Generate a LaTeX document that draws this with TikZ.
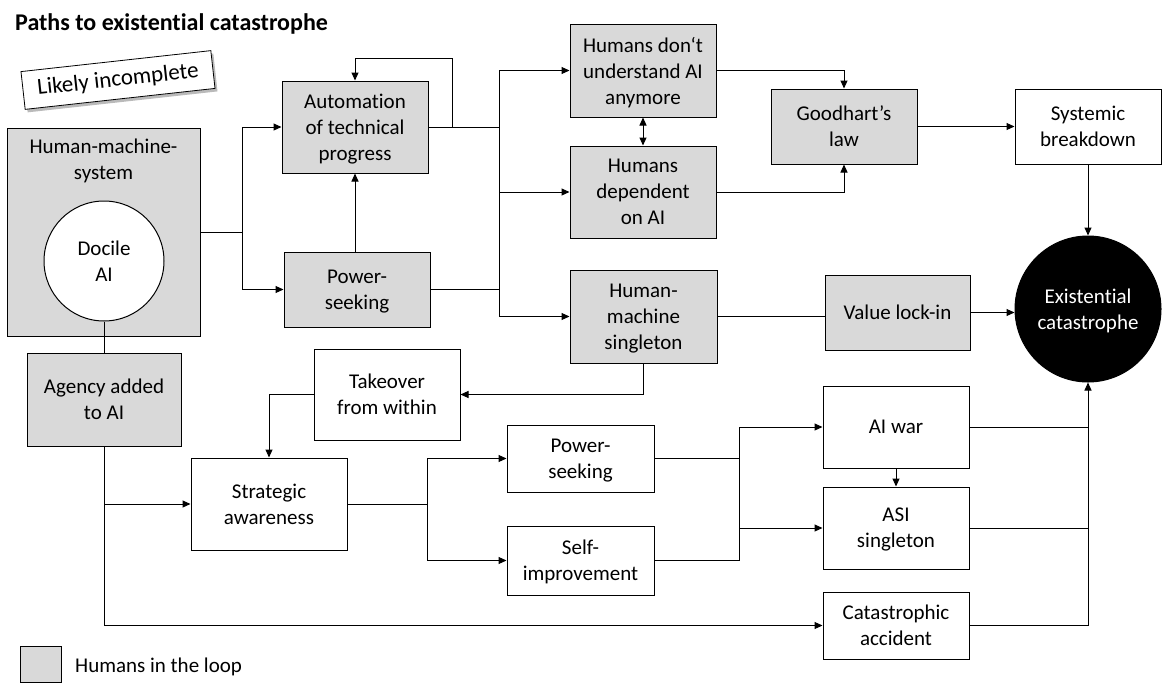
\documentclass[tikz,border=0pt]{standalone}
\usepackage{fontspec}
\setmainfont{Carlito}[Ligatures={TeX,NoCommon}]
\usetikzlibrary{arrows.meta,shadows}
\definecolor{boxgray}{HTML}{D9D9D9}
\begin{document}
\begin{tikzpicture}[x=1pt,y=-1pt,
  base/.style={draw=black, line width=1pt, align=center, inner sep=0pt, text depth=0pt,
    font=\fontsize{21}{26}\selectfont},
  gbox/.style={base, fill=boxgray},
  wbox/.style={base, fill=white},
  conn/.style={line width=1pt, draw=black},
  arr/.style={conn, -{Triangle[length=8pt,width=7pt]}},
  darr/.style={conn, {Triangle[length=8pt,width=7pt]}-{Triangle[length=8pt,width=7pt]}},
  txt/.style={align=center, inner sep=0pt, text depth=0pt, font=\fontsize{21}{26}\selectfont}
]
\useasboundingbox (0,0) rectangle (1162,691);
\fill[white] (0,0) rectangle (1162,691);

% title and note
\node[anchor=base west, inner sep=0pt, font=\bfseries\fontsize{24}{28}\selectfont] (title) at (15,30) {Paths to existential catastrophe};
\node[draw=black, line width=0.8pt, fill=white, rotate=6.3, minimum width=191, minimum height=38, inner sep=0pt,
  font=\fontsize{23}{26}\selectfont,
  drop shadow={shadow xshift=2.5pt, shadow yshift=-3pt, fill=black!45, opacity=0.6}] (note) at (118,80) {Likely incomplete};

% nodes
\node[gbox, minimum width=193, minimum height=208] (hms) at (103.5,232) {};
\node[txt] (hmslabel) at (103.5,159) {Human-machine-\\system};
\node[wbox, circle, minimum size=120] (docile) at (104,261) {Docile\\AI};
\node[gbox, minimum width=154, minimum height=93] (agency) at (104,399.5) {Agency added\\to AI};
\node[gbox, minimum width=146, minimum height=92] (automation) at (355,127) {Automation\\of technical\\progress};
\node[gbox, minimum width=146, minimum height=75] (power1) at (357,289.5) {Power-\\seeking};
\node[gbox, minimum width=146, minimum height=93] (understand) at (643,70.5) {Humans don‘t\\understand AI\\anymore};
\node[gbox, minimum width=146, minimum height=92] (dependent) at (643,192) {Humans\\dependent\\on AI};
\node[gbox, minimum width=146, minimum height=75] (goodhart) at (844,126.5) {Goodhart’s\\law};
\node[wbox, minimum width=146, minimum height=75] (systemic) at (1088,126.5) {Systemic\\breakdown};
\node[base, circle, fill=black, text=white, minimum size=146] (exist) at (1088,309) {Existential\\catastrophe};
\node[gbox, minimum width=145, minimum height=75] (valuelock) at (897.5,312.5) {Value lock-in};
\node[gbox, minimum width=147, minimum height=93] (singleton) at (643.5,316.5) {Human-\\machine\\singleton};
\node[wbox, minimum width=146, minimum height=91] (takeover) at (387,394.5) {Takeover\\from within};
\node[wbox, minimum width=156, minimum height=92] (strategic) at (269,504) {Strategic\\awareness};
\node[wbox, minimum width=147, minimum height=67] (power2) at (580.5,458.5) {Power-\\seeking};
\node[wbox, minimum width=147, minimum height=69] (selfimp) at (580.5,560.5) {Self-\\improvement};
\node[wbox, minimum width=146, minimum height=82] (aiwar) at (896,427) {AI war};
\node[wbox, minimum width=146, minimum height=82] (asi) at (896,528) {ASI\\singleton};
\node[wbox, minimum width=146, minimum height=67] (accident) at (896,625.5) {Catastrophic\\accident};

% legend
\node[gbox, minimum width=41, minimum height=36] (legbox) at (40.5,664) {};
\node[anchor=base west, inner sep=0pt, font=\fontsize{21}{26}\selectfont] (legtxt) at (75,672) {Humans in the loop};

% junction coordinates
\coordinate (j1) at (242,232);
\coordinate (loopc) at (452,58);
\coordinate (t1) at (499,127);
\coordinate (s1) at (427,504);
\coordinate (p1) at (739,458.5);

% connectors
\draw[conn] (hms.east) -- (j1);
\draw[arr] (j1) |- (automation.west);
\draw[arr] (j1) |- (power1.west);
\draw[arr] (power1.north -| automation.south) -- (automation.south);
\draw[arr] (automation.east) -| (loopc) -| (automation.north);
\draw[conn] (automation.east) -- (t1);
\draw[arr] (t1) |- (understand.west);
\draw[arr] (t1) |- (dependent.west);
\draw[arr] (t1) |- (singleton.west);
\draw[conn] (power1.east) -- (power1.east -| t1);
\draw[darr] (understand.south) -- (dependent.north);
\draw[arr] (understand.east) -| (goodhart.north);
\draw[arr] (dependent.east) -| (goodhart.south);
\draw[arr] (goodhart.east) -- (systemic.west);
\draw[arr] (systemic.south) -- (exist.north);
\draw[conn] (singleton.east) -- (singleton.east -| valuelock.west);
\draw[arr] (valuelock.east) -- (valuelock.east -| exist.west);
\draw[arr] (singleton.south) |- (takeover.east);
\draw[arr] (takeover.west) -| (strategic.north);
\draw[conn] (docile.south) -- (agency.north);
\draw[arr] (agency.south) |- (accident.west);
\draw[arr] (agency.south |- strategic.west) -- (strategic.west);
\draw[conn] (strategic.east) -- (s1);
\draw[arr] (s1) |- (power2.west);
\draw[arr] (s1) |- (selfimp.west);
\draw[conn] (power2.east) -- (p1);
\draw[conn] (selfimp.east) -| (p1);
\draw[arr] (p1) |- (aiwar.west);
\draw[arr] (p1) |- (asi.west);
\draw[arr] (aiwar.south) -- (asi.north);
\draw[arr] (accident.east) -| (exist.south);
\draw[conn] (aiwar.east) -- (aiwar.east -| exist.south);
\draw[conn] (asi.east) -- (asi.east -| exist.south);
\end{tikzpicture}
\end{document}
